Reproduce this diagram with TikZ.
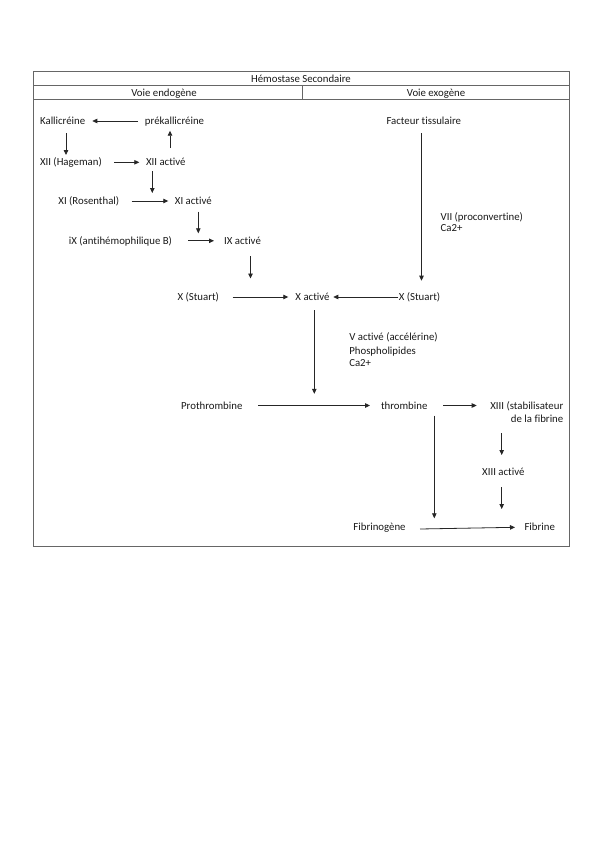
\documentclass[tikz,border=0pt]{standalone}
\usepackage{fontspec}
\setmainfont{Carlito}[Ligatures=NoCommon]
\usetikzlibrary{arrows.meta}
\begin{document}
\begin{tikzpicture}[x=1pt,y=-1pt,
  lbl/.style={inner sep=0pt,outer sep=0pt,text height=7pt,text depth=0pt,font=\fontsize{10.8}{13}\selectfont,text=black!90},
  arr/.style={draw=black!85,line width=0.8pt,-{Triangle[length=5pt,width=4.5pt]}},
  tbl/.style={draw=black!60,line width=0.9pt}]
\useasboundingbox (0,0) rectangle (599,848);
% table
\draw[tbl] (33,71.3) rectangle (569,546.7);
\draw[tbl] (33,85.7) -- (569,85.7);
\draw[tbl] (33,99) -- (569,99);
\draw[tbl] (302,85.7) -- (302,99);
\node[lbl] (hdr) at (301,79) {Hémostase Secondaire};
\node[lbl] (endo) at (164,93) {Voie endogène};
\node[lbl] (exo) at (436,93) {Voie exogène};
% nodes
\node[lbl] (kal) at (62.7,121) {Kallicréine};
\node[lbl] (prek) at (174.5,121) {prékallicréine};
\node[lbl] (hag) at (70.9,162.3) {XII (Hageman)};
\node[lbl] (xiia) at (165.8,162.3) {XII activé};
\node[lbl] (ros) at (88.8,201) {XI (Rosenthal)};
\node[lbl] (xia) at (193.3,201) {XI activé};
\node[lbl] (ix) at (120.5,240.8) {iX (antihémophilique B)};
\node[lbl] (ixa) at (242.5,240.8) {IX activé};
\node[lbl] (xs1) at (198.3,297) {X (Stuart)};
\node[lbl] (xa) at (312.5,297) {X activé};
\node[lbl] (xs2) at (419.5,297) {X (Stuart)};
\node[lbl] (ft) at (423.8,121) {Facteur tissulaire};
\node[lbl,anchor=west] (vii) at (440.7,216.7) {VII (proconvertine)};
\node[lbl,anchor=west] (ca1) at (440.7,228.3) {Ca2+};
\node[lbl,anchor=west] (va) at (349.3,337.3) {V activé (accélérine)};
\node[lbl,anchor=west] (phos) at (349.3,350.7) {Phospholipides};
\node[lbl,anchor=west] (ca2) at (349.3,363.3) {Ca2+};
\node[lbl] (proth) at (211.8,405.5) {Prothrombine};
\node[lbl] (thr) at (404.2,405.5) {thrombine};
\node[lbl,anchor=east] (xiii) at (563.3,405.5) {XIII (stabilisateur};
\node[lbl,anchor=east] (xiiib) at (563.3,419.3) {de la fibrine};
\node[lbl] (xiiia) at (503.3,471.7) {XIII activé};
\node[lbl] (fibg) at (379.5,527.3) {Fibrinogène};
\node[lbl] (fib) at (539.7,527.3) {Fibrine};
% connectors
\draw[arr] ([xshift=-36.5pt]prek.center) -- ([xshift=29.6pt]kal.center);
\draw[arr] ([shift={(4.2,-10.8)}]xiia.north) -- ([shift={(-4.5,6.2)}]prek.south);
\draw[arr] ([shift={(3.3,8.5)}]kal.south) -- ([shift={(-4.9,-3.8)}]hag.north);
\draw[arr] ([xshift=43.1pt]hag.center) -- ([xshift=-26.5pt]xiia.center);
\draw[arr] ([shift={(-13.5,5.5)}]xiia.south) -- ([shift={(63.5,-4.5)}]ros.north);
\draw[arr] ([xshift=42.9pt]ros.center) -- ([xshift=-25pt]xia.center);
\draw[arr] ([shift={(5,7.2)}]xia.south) -- ([shift={(77.8,-4)}]ix.north);
\draw[arr] ([xshift=67.8pt]ix.center) -- ([xshift=-28.5pt]ixa.center);
\draw[arr] ([shift={(8,11.7)}]ixa.south) -- ([shift={(52.2,-15)}]xs1.north);
\draw[arr] ([xshift=34.4pt]xs1.center) -- ([xshift=-24.2pt]xa.center);
\draw[arr] ([xshift=-21.2pt]xs2.center) -- ([xshift=20.8pt]xa.center);
\draw[arr] ([shift={(-2.3,8.8)}]ft.south) -- ([shift={(2,-12.8)}]xs2.north);
\draw[arr] ([shift={(1.8,9.5)}]xa.south) -- ([shift={(102.5,-8.2)}]proth.north);
\draw[arr] ([xshift=46.5pt]proth.center) -- ([xshift=-34.2pt]thr.center);
\draw[arr] ([xshift=39.1pt]thr.center) -- ([xshift=-86.6pt]xiii.east);
\draw[arr] ([shift={(-61.6,10.5)}]xiiib.south east) -- ([shift={(-1.6,-13.2)}]xiiia.north);
\draw[arr] ([shift={(-1.6,12.1)}]xiiia.south) -- ([shift={(-38,-14.8)}]fib.north);
\draw[arr] ([shift={(30.1,6.5)}]thr.south) -- ([shift={(54.8,-5.5)}]fibg.north);
\draw[arr] ([shift={(40.5,1.7)}]fibg.center) -- ([xshift=-24.7pt]fib.center);
\end{tikzpicture}
\end{document}
